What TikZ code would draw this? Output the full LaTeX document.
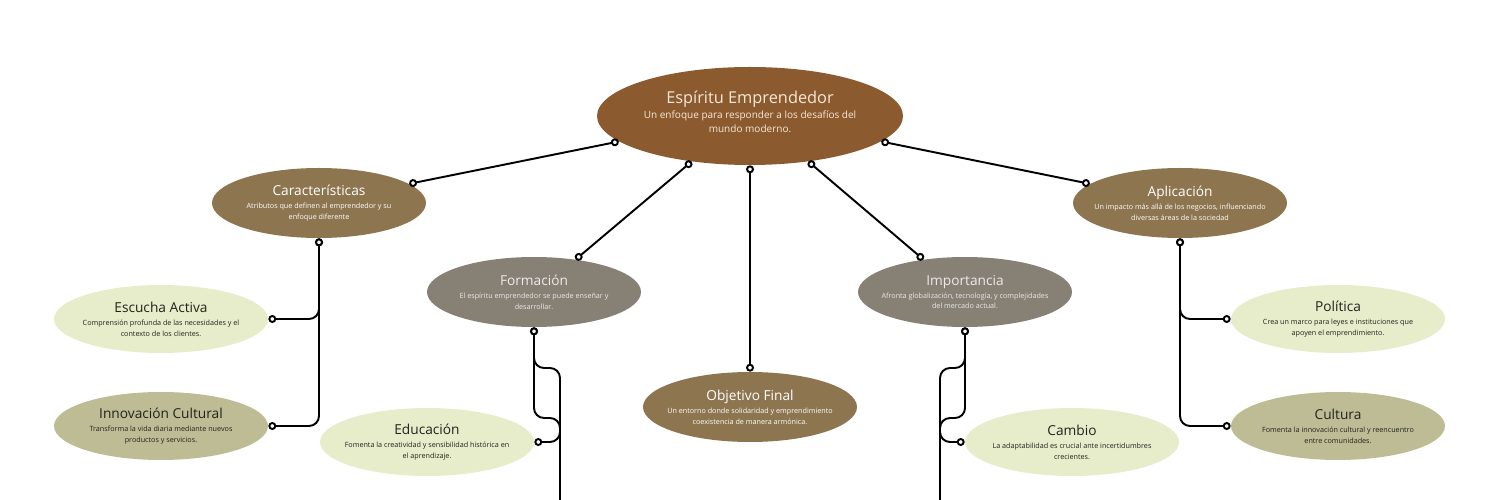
\documentclass[tikz,border=0pt]{standalone}
\usepackage{fontspec}
\setmainfont{Open Sans}
\usepackage{tikz}
\usetikzlibrary{shapes.geometric, arrows.meta, positioning}
\definecolor{rootbrown}{RGB}{140, 90, 47}
\definecolor{midbrown}{RGB}{141, 117, 80}
\definecolor{stone}{RGB}{135, 128, 116}
\definecolor{leafgreen}{RGB}{231, 237, 202}
\definecolor{olive}{RGB}{190, 188, 148}
\definecolor{cream}{RGB}{246, 232, 214}
\definecolor{darktext}{RGB}{34, 34, 30}
\newcommand{\roottitle}{\fontsize{9.3}{11}\selectfont}
\newcommand{\rootdesc}{\fontsize{5.7}{7.9}\selectfont}
\newcommand{\topictitle}{\fontsize{7.8}{9}\selectfont}
\newcommand{\topicdesc}{\fontsize{4.1}{6.2}\selectfont}

\begin{document}
\begin{tikzpicture}[
  root/.style={ellipse, fill=rootbrown, minimum width=6.12cm, minimum height=1.96cm, inner xsep=-0.6cm, inner ysep=0pt, text depth=5pt, align=center, text=cream, font=\rootdesc},
  topic/.style={ellipse, minimum width=4.28cm, minimum height=1.4cm, inner xsep=-0.6cm, inner ysep=0pt, align=center, font=\topicdesc},
  mainbox/.style={topic, fill=midbrown, text=white},
  stonebox/.style={topic, fill=stone, text=white!92!black},
  leafbox/.style={topic, fill=leafgreen, text=darktext, minimum height=1.36cm},
  oliveleaf/.style={topic, fill=olive, text=darktext, minimum height=1.36cm},
  link/.style={{Circle[fill=white, length=4.5pt, width=4.5pt]}-{Circle[fill=white, length=4.5pt, width=4.5pt]}, line width=1.1pt, rounded corners=0.2cm},
  trunk/.style={{Circle[fill=white, length=4.5pt, width=4.5pt]}-, line width=1.1pt, rounded corners=0.2cm}
]
  \useasboundingbox (0,0) rectangle (30,-10);

  \node[root] (root) at (15,-2.32) {{\roottitle Esp\'{\i}ritu Emprendedor}\\[0.6pt]Un enfoque para responder a los desaf\'{\i}os del\\mundo moderno.};

  \node[mainbox]  (car) at (6.38,-4.06)  {{\topictitle Caracter\'{\i}sticas}\\[1.2pt]Atributos que definen al emprendedor y su\\enfoque diferente};
  \node[mainbox]  (apl) at (23.6,-4.06)  {{\topictitle Aplicaci\'on}\\[1.2pt]Un impacto m\'as all\'a de los negocios, influenciando\\diversas \'areas de la sociedad};
  \node[stonebox] (for) at (10.68,-5.84) {{\topictitle Formaci\'on}\\[1.2pt]El esp\'{\i}ritu emprendedor se puede ense\~nar y\\desarrollar.};
  \node[stonebox] (imp) at (19.3,-5.84)  {{\topictitle Importancia}\\[1.2pt]Afronta globalizaci\'on, tecnolog\'{\i}a, y complejidades\\del mercado actual.};
  \node[mainbox]  (obj) at (15,-8.14)    {{\topictitle Objetivo Final}\\[1.2pt]Un entorno donde solidaridad y emprendimiento\\coexistencia de manera arm\'onica.};

  \node[leafbox]   (esc) at (3.22,-6.38)  {{\topictitle Escucha Activa}\\[1.2pt]Comprensi\'on profunda de las necesidades y el\\contexto de los clientes.};
  \node[oliveleaf] (inn) at (3.22,-8.52)  {{\topictitle Innovaci\'on Cultural}\\[1.2pt]Transforma la vida diaria mediante nuevos\\productos y servicios.};
  \node[leafbox]   (pol) at (26.76,-6.38) {{\topictitle Pol\'{\i}tica}\\[1.2pt]Crea un marco para leyes e instituciones que\\apoyen el emprendimiento.};
  \node[oliveleaf] (cul) at (26.76,-8.52) {{\topictitle Cultura}\\[1.2pt]Fomenta la innovaci\'on cultural y reencuentro\\entre comunidades.};
  \node[leafbox]   (edu) at (8.54,-8.84)  {{\topictitle Educaci\'on}\\[1.2pt]Fomenta la creatividad y sensibilidad hist\'orica en\\el aprendizaje.};
  \node[leafbox]   (cam) at (21.44,-8.84) {{\topictitle Cambio}\\[1.2pt]La adaptabilidad es crucial ante incertidumbres\\crecientes.};

  % Root links
  \draw[link] (root.191) -- (car.12);
  \draw[link] (root.218) -- (for.38);
  \draw[link] (root.south) -- (obj.north);
  \draw[link] (root.322) -- (imp.142);
  \draw[link] (root.349) -- (apl.168);

  % Left branch
  \draw[link] (car.south) |- (esc.east);
  \draw[link] (car.south) |- (inn.east);
  % Right branch
  \draw[link] (apl.south) |- (pol.west);
  \draw[link] (apl.south) |- (cul.west);

  % Formacion
  \draw[trunk] (for.south) -- (10.68,-7.36) -- (11.2,-7.36) -- (11.2,-10);
  \draw[link] (for.south) -- (10.68,-8.36) -- (11.2,-8.36) -- (11.2,-8.84) -- (edu.east);
  % Importancia
  \draw[trunk] (imp.south) -- (19.3,-7.36) -- (18.8,-7.36) -- (18.8,-10);
  \draw[link] (imp.south) -- (19.3,-8.36) -- (18.8,-8.36) -- (18.8,-8.84) -- (cam.west);
\end{tikzpicture}
\end{document}
